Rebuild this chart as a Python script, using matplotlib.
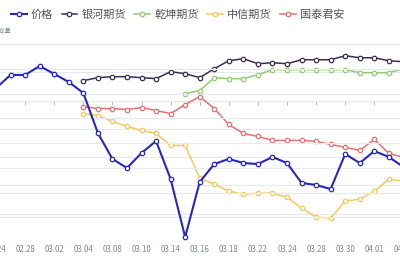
import matplotlib
matplotlib.use('Agg')
import matplotlib.pyplot as plt
import numpy as np

plt.rcParams['font.family'] = ['Noto Sans CJK SC', 'DejaVu Sans']

# trading days
dates = ['02.24', '02.25', '02.28', '03.01', '03.02', '03.03', '03.04', '03.07',
         '03.08', '03.09', '03.10', '03.11', '03.14', '03.15', '03.16', '03.17',
         '03.18', '03.21', '03.22', '03.23', '03.24', '03.25', '03.28', '03.29',
         '03.30', '03.31', '04.01', '04.06', '04.07']

# price (right axis)
price = [224400, 235000, 235000, 242200, 235800, 229300, 220400, 188100,
         167100, 159800, 171900, 181600, 150900, 104000, 148500, 163000,
         167100, 163800, 163000, 168700, 163800, 147700, 146100, 142800,
         171100, 163800, 173500, 168700, 160600]

# net positions (left axis), brokers start later
yinhe = [7040, 8100, 8450, 8450, 8100, 7750, 10210, 9510, 8100, 11270, 14080,
         14790, 13030, 13380, 13030, 14440, 14440, 14440, 15850, 15140, 15140,
         14080, 13730]
qiankun = [2460, 3520, 8100, 7750, 7750, 9150, 10920, 10920, 10920, 10920,
           10920, 10920, 9860, 9860, 9860, 11270]
zhongxin = [-4580, -5280, -7390, -9150, -10560, -11620, -15850, -15850, -27460,
            -29580, -32040, -33100, -32750, -32750, -34150, -38030, -41200,
            -41550, -35560, -34860, -32040, -27820, -28520]
guotai = [-2110, -2820, -2820, -3170, -2460, -3520, -4580, -1410, 1410, -2820,
          -8450, -11620, -12680, -14080, -14080, -14080, -14440, -15490, -16550,
          -17610, -13730, -18660, -20070]

x = np.arange(len(dates))
n = len(dates)

grid_c = '#e6e9f0'
fig = plt.figure(figsize=(4, 2.6), dpi=100)
ax = fig.add_axes([-20 / 400, 18 / 260, 440 / 400, 198 / 260])
ax2 = ax.twinx()

# left axis: positions
ax.set_xlim(-1.1, 29.14)
ax.set_ylim(-50000, 20000)
ax.set_yticks(np.arange(-50000, 20001, 10000))
ax.grid(axis='y', color=grid_c, lw=0.8)
ax.grid(axis='x', visible=False)

series = [
    ('银河期货', yinhe, '#3b2d58'),
    ('乾坤期货', qiankun, '#91cc75'),
    ('中信期货', zhongxin, '#f5c85e'),
    ('国泰君安', guotai, '#e77070'),
]
handles = []
for name, vals, col in series:
    xs = x[n - len(vals):]
    h, = ax.plot(xs, vals, color=col, lw=1.1, marker='o', ms=3.2,
                 mfc='white', mec=col, mew=0.9, label=name)
    handles.append(h)

# right axis: price
ax2.set_ylim(100000, 260000)
ax2.set_yticks(np.arange(100000, 260001, 20000))
ax2.grid(axis='y', color=grid_c, lw=0.8)
hp, = ax2.plot(x, price, color='#2626c4', lw=1.5, marker='o', ms=3.2,
               mfc='white', mec='#2626c4', mew=0.9, label='价格')
handles.insert(0, hp)

for a in (ax, ax2):
    for s in a.spines.values():
        s.set_visible(False)
    a.tick_params(axis='y', length=0, labelleft=False, labelright=False)

ax.set_xticks(x[::2])
ax.set_xticklabels(dates[::2])
ax.tick_params(axis='x', length=0, pad=2.5, labelsize=5.7, labelcolor='#85888f')

# axis line at zero with ticks
sec = ax.secondary_xaxis(50000 / 70000)
sec.set_xticks(x[::2])
sec.set_xticklabels([])
sec.spines['top'].set_color('#b4b7be')
sec.spines['top'].set_linewidth(0.8)
sec.spines['bottom'].set_visible(False)
sec.tick_params(axis='x', direction='in', length=3, width=0.7, color='#b4b7be')

fig.text(11 / 400, 1 - 31 / 260, '持仓量', ha='right', va='center',
         fontsize=4.2, color='#8a8d94')

fig.legend(handles, [h.get_label() for h in handles], loc='center left',
           bbox_to_anchor=(11 / 400, 1 - 15 / 260), ncol=5, frameon=False,
           borderpad=0, borderaxespad=0, handlelength=1.4, handletextpad=0.4,
           columnspacing=0.75, fontsize=8, labelcolor='#555555')

fig.savefig('out.png', dpi=100)
